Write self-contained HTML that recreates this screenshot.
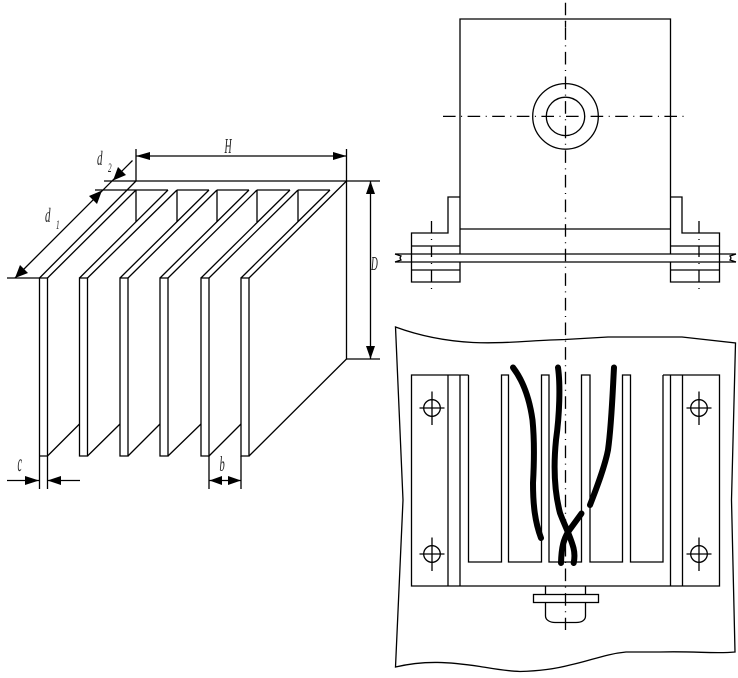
<!DOCTYPE html>
<html><head><meta charset="utf-8"><style>
html,body{margin:0;padding:0;background:#fff}
svg{display:block}
text{font-family:"Liberation Serif",serif;font-style:italic;fill:#222}
</style></head><body>
<svg width="738" height="678" viewBox="0 0 738 678" xmlns="http://www.w3.org/2000/svg">
<g fill="none" stroke="#000" stroke-width="1.3">
<!-- left: fins -->
<path d="M39.5 278V489M47.5 278V489M39.5 278H47.5M39.5 456H47.5"/>
<path d="M79.5 278V456H87.5V278ZM120 278V456H128V278ZM160 278V456H168V278ZM201 278V456H209V278ZM241 278V456H249V278Z"/>
<path d="M209 456V489M241 456V489"/>
<path d="M39.5 278L136 181M47.5 278L136 190M79.5 278L168 190M87.5 278L177 190M120 278L209 190M128 278L217 190M160 278L249 190M168 278L257 190M201 278L290 190M209 278L298 190M241 278L330 190M249 278L346.5 181"/>
<path d="M47.5 456L79.5 424M87.5 456L120 424M128 456L160 424M168 456L201 424M209 456L241 424M249 456L346.5 359"/>
<path d="M104 181H380M95 190H168M177 190H209M217 190H249M257 190H290M298 190H330"/>
<path d="M136 149V181M136 190V222M177 190V222M217 190V222M257 190V222M298 190V222"/>
<path d="M346.5 149V359H380M7 278H40"/>
<!-- dims -->
<path d="M136 156H346M370.5 181V359M15 278L132.5 160.5M7 480.5H39M47 480.5H80M209 480.5H241"/>
</g>
<g fill="#000" stroke="none">
<path d="M136 156L150 152V160ZM346.5 156L333 152V160Z"/>
<path d="M370.5 181L366 194H375ZM370.5 359L366 346H375Z"/>
<path d="M15 278L20 265L28 273ZM102 190.5L89 196L97 204ZM113 180.5L126 175L118 167Z" />
<path d="M39 480.5L25 476V485ZM47.5 480.5L61 476V485ZM209.500 480.5L222 476V485ZM241 480.500L228 476V485Z"/>
</g>
<text transform="translate(224.500,153) scale(.47,1)" font-size="21">H</text>
<text transform="translate(371,270) scale(.47,1)" font-size="20">D</text>
<text transform="translate(97,165) scale(.55,1)" font-size="20">d</text>
<text transform="translate(108,172) scale(.55,1)" font-size="13">2</text>
<text transform="translate(45,222) scale(.55,1)" font-size="20">d</text>
<text transform="translate(56,229) scale(.55,1)" font-size="13">1</text>
<text transform="translate(17.500,471) scale(.4,1)" font-size="25">c</text>
<text transform="translate(219.500,471) scale(.5,1)" font-size="21">b</text>

<!-- right top -->
<g fill="none" stroke="#000" stroke-width="1.3">
<path d="M460 254V19H670.500V254M460 229H670.500"/>
<path d="M460 197H448V233H411.500V282H460V262M411.500 246H460M411.500 270H460"/>
<path d="M670.500 197H682V233H719.500V282H670.500V262M670.500 246H719.500M670.500 270H719.500"/>
<path d="M395 254H736M395 262H736"/>
<path d="M395 254L401 256L400 258L401 260L395 262M736 254L730 256L731 258L730 260L736 262"/>
<circle cx="565.500" cy="116.400" r="32.800"/>
<circle cx="565.500" cy="116.400" r="19.200"/>
<path d="M431.500 221V233.500M431.500 239V240M431.500 246.500V257M431.500 263V264M431.500 270V282.500M431.500 288V289"/>
<path d="M699 221V233.500M699 239V240M699 246.500V257M699 263V264M699 270V282.500M699 288V289"/>
<path d="M443 116.400H684.500" stroke-dasharray="12.600 5.500 1 5.500"/>
<path d="M565.500 2.700V630" stroke-dasharray="12.600 5.500 1 5.500"/>
<path d="M565.500 21V27"/>
<!-- sheet outline -->
<path d="M395.500 327C420 336 445 341 473 342.500C505 344 535 340 565 339.500L608 337H682L735.500 343L731.500 500L735 652C715 654 695 651 660 652H626C605 654 590 661 570 665C555 669 540 671 520 671.500C505 671 490 668 480 666.500C450 662 425 660 395.500 667L403 500Z"/>
<!-- plate -->
<path d="M468.500 375H411.500V586H719.500V375H663"/>
<path d="M448 375V586M460 375V586M670.500 375V586M682.500 375V586"/>
<path d="M468.500 375V562H501.500V375H508.500V562H541.500V375H549V562H581.500V375H590V562H622.500V375H630.500V562H663V375"/>
<circle cx="432" cy="408" r="8.300"/><path d="M419.500 408H444.500M432 391.500V425"/>
<circle cx="432" cy="554" r="8.300"/><path d="M419.500 554H444.500M432 537.500V571"/>
<circle cx="699" cy="408" r="8.300"/><path d="M686.500 408H711.500M699 391.500V425"/>
<circle cx="699" cy="554" r="8.300"/><path d="M686.500 554H711.500M699 537.500V571"/>
<!-- bolt -->
<path d="M545.500 586V594.500M585.500 586V594.500"/>
<rect x="533.500" y="594.500" width="65" height="8"/>
<path d="M545.500 602.500V616C545.500 620 550 622.500 555 622.500H576C582 622.500 585.500 620 585.500 616V602.500"/>
</g>
<!-- wires -->
<g fill="none" stroke="#000" stroke-width="6" stroke-linecap="round" stroke-linejoin="round">
<path d="M513 367.500C521 378 529 395 532.500 420C534.500 440 534 465 533 483C533 505 535 522 541 538"/>
<path d="M558 367.500C560.500 385 559.500 415 556 440C553.500 465 554 490 560 513C564 524 570 535 573.500 548C575 554 574.500 559 573.700 563"/>
<path d="M614 367.500C612.500 395 611.500 425 608 450C605 466 597 487 590 505"/>
<path d="M581.500 513.500L568 532C564 539 561.500 546 561 563"/>
</g>
</svg>
</body></html>
